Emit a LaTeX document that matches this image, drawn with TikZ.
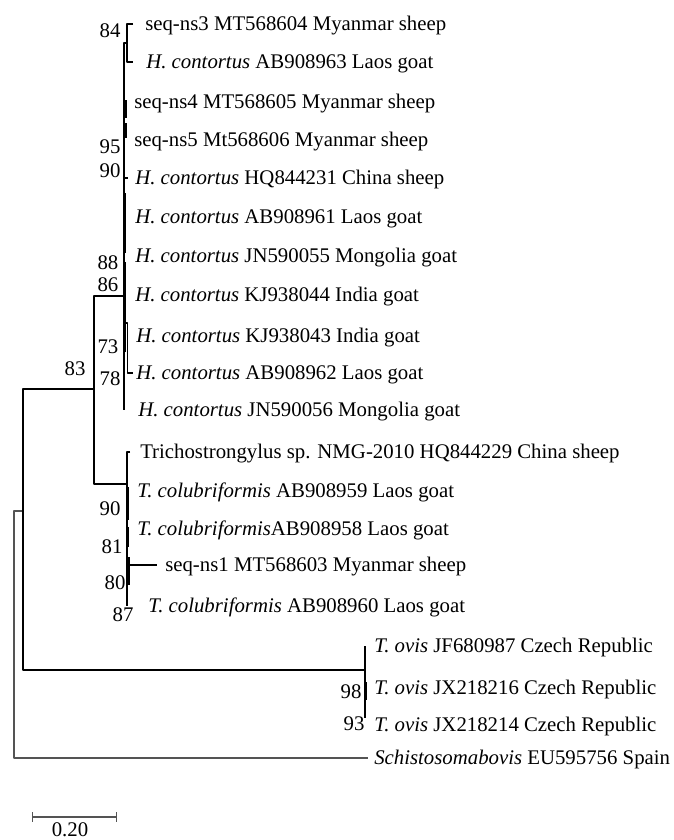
\documentclass[tikz,border=0pt]{standalone}
\usepackage{fontspec}
\setmainfont{Liberation Serif}
\usepackage{tikz}
\usetikzlibrary{arrows}
\definecolor{rootgray}{rgb}{0.33,0.33,0.33}
\tikzset{
  taxon/.style={anchor=west,inner sep=0pt,text height=9pt,text depth=0pt,font=\fontsize{15.6}{18}\selectfont},
  boot/.style={inner sep=0pt,font=\fontsize{15.6}{18}\selectfont},
  branch/.style={line width=0.8pt},
  thickbranch/.style={line width=1.5pt}
}
\begin{document}
\begin{tikzpicture}[line join=round,x=0.75pt,y=-0.75pt]
\useasboundingbox (0,0) rectangle (674,840);
% taxa
\node[taxon] (ns3) at (145,24) {seq-ns3 MT568604 Myanmar sheep};
\node[taxon] (hc63) at (146,62) {\textit{H. contortus} AB908963 Laos goat};
\node[taxon] (ns4) at (134,102) {seq-ns4 MT568605 Myanmar sheep};
\node[taxon] (ns5) at (134,140) {seq-ns5 Mt568606 Myanmar sheep};
\node[taxon] (hq31) at (135,178) {\textit{H. contortus} HQ844231 China sheep};
\node[taxon] (ab61) at (135,217) {\textit{H. contortus} AB908961 Laos goat};
\node[taxon] (jn55) at (135,256) {\textit{H. contortus} JN590055 Mongolia goat};
\node[taxon] (kj44) at (135,295) {\textit{H. contortus} KJ938044 India goat};
\node[taxon] (kj43) at (136,336) {\textit{H. contortus} KJ938043 India goat};
\node[taxon] (ab62) at (136,373) {\textit{H. contortus} AB908962 Laos goat};
\node[taxon] (jn56) at (138,410) {\textit{H. contortus} JN590056 Mongolia goat};
\node[taxon] (trich) at (140,452) {Trichostrongylus sp. NMG-2010 HQ844229 China sheep};
\node[taxon] (tc59) at (137,491) {\textit{T. colubriformis} AB908959 Laos goat};
\node[taxon] (tc58) at (137,529) {\textit{T. colubriformis}AB908958 Laos goat};
\node[taxon] (ns1) at (165,565) {seq-ns1 MT568603 Myanmar sheep};
\node[taxon] (tc60) at (148,606) {\textit{T. colubriformis} AB908960 Laos goat};
\node[taxon] (ov87) at (374,646) {\textit{T. ovis} JF680987 Czech Republic};
\node[taxon] (ov16) at (374,688) {\textit{T. ovis} JX218216 Czech Republic};
\node[taxon] (ov14) at (374,725) {\textit{T. ovis} JX218214 Czech Republic};
\node[taxon] (schisto) at (374,758) {\textit{Schistosomabovis} EU595756 Spain};
% inner nodes
\coordinate (root) at (14,511);
\coordinate (nIn) at (23,511);
\coordinate (n83) at (94,389);
\coordinate (nOvis) at (365,670);
\coordinate (nOvisEnd) at (365,718);
\coordinate (nH) at (124,296);
\coordinate (n84) at (127,43);
\coordinate (nT) at (127,484);
% branches
\draw[branch,rootgray] (nIn) -- (root) |- ([xshift=-4.5pt]schisto.west);
\draw[branch] (nIn) |- (n83);
\draw[branch] (nIn) |- (nOvis);
\draw[branch] (n83) |- (nH);
\draw[branch] (n83) |- (nT);
\draw[branch] (nH) |- (n84);
\draw[branch] (nH) -- (nH |- jn56.west);
\draw[branch] ([xshift=-9pt]ns3.west) -| (n84) |- ([xshift=-9.5pt]hc63.west);
\draw[branch] (126,100) -- (126,118) (126,123) -- (126,138);
\draw[branch] (nH |- hq31.west) -- ([xshift=-5pt]hq31.west);
\draw[thickbranch] (124.5,193) -- (124.5,253) (124.5,262) -- (124.5,323);
\draw[branch] (125.5,352) -- (125.5,323) -- (127.5,323) |- ([xshift=-2pt]ab62.west);
\draw[branch] ([xshift=-7.5pt]trich.west) -| (nT) -- (nT |- tc60.west);
\draw[thickbranch] (128,487) -- (128,520) (128,527) -- (128,547) (128.5,557) -- (128.5,585);
\draw[branch] (nT |- ns1.west) -- ([xshift=-6pt]ns1.west);
\draw[branch] (nOvis |- ov87.west) -- (nOvisEnd);
\draw[thickbranch] (366,682) -- (366,700);
% bootstrap values
\node[boot] (b84) at (110,31) {84};
\node[boot] (b95) at (110,147) {95};
\node[boot] (b90h) at (110,171) {90};
\node[boot] (b88) at (108,263) {88};
\node[boot] (b86) at (108,285) {86};
\node[boot] (b73) at (108,347) {73};
\node[boot] (b78) at (110,379) {78};
\node[boot] (b83) at (75,369) {83};
\node[boot] (b90t) at (110,509) {90};
\node[boot] (b81) at (112,547) {81};
\node[boot] (b80) at (115,583) {80};
\node[boot] (b87) at (123,615) {87};
\node[boot] (b98) at (351,692) {98};
\node[boot] (b93) at (354,724) {93};
% scale bar
\coordinate (sbl) at (32,817);
\coordinate (sbr) at (117,817);
\draw[branch,rootgray,|-|] (sbl) -- (sbr);
\node[boot] (sblab) at (70,830) {0.20};
\end{tikzpicture}
\end{document}
